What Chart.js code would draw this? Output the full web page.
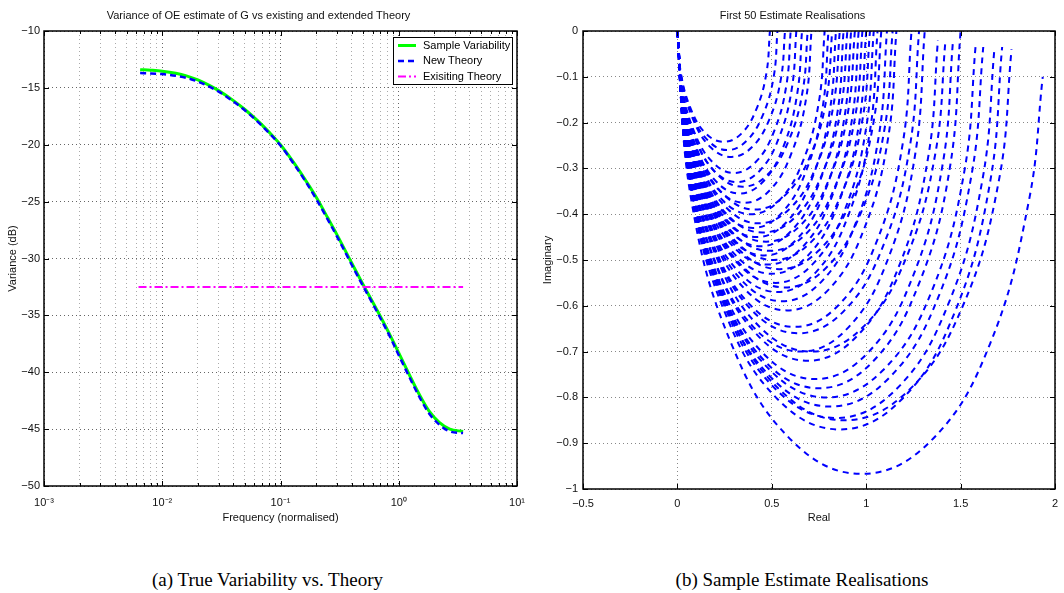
<!DOCTYPE html>
<html>
<head>
<meta charset="utf-8">
<script src="https://cdn.jsdelivr.net/npm/chart.js@4.4.1/dist/chart.umd.min.js"></script>
<style>
  html, body { margin: 0; padding: 0; background: #fff; width: 1064px; height: 593px; overflow: hidden; }
  .wrap { position: absolute; top: 0; height: 540px; }
  #wrapA { left: 0; width: 530px; }
  #wrapB { left: 530px; width: 534px; }
  .caption {
    position: absolute; top: 569px; line-height: 22px;
    font-family: "Liberation Serif", "Times New Roman", serif; font-size: 19px;
    color: #000; text-align: center; white-space: nowrap;
  }
</style>
</head>
<body>
<div class="wrap" id="wrapA"><canvas id="chartVariance" width="530" height="540"></canvas></div>
<div class="wrap" id="wrapB"><canvas id="chartRealisations" width="534" height="540"></canvas></div>
<div class="caption" style="left:0;width:535px">(a) True Variability vs. Theory</div>
<div class="caption" style="left:532px;width:540px">(b) Sample Estimate Realisations</div>

<script>
// ---- left panel: variance vs frequency ----
const freq = [0.0065, 0.008, 0.01, 0.013, 0.016, 0.02, 0.025, 0.03, 0.04, 0.05, 0.065, 0.08, 0.1, 0.13, 0.16,
  0.2, 0.25, 0.3, 0.4, 0.5, 0.6, 0.7, 0.85, 1.0, 1.2, 1.5, 1.8, 2.2, 2.7, 3.5];
const sampleVariability = [-13.4, -13.45, -13.53, -13.71, -13.94, -14.3, -14.78, -15.24, -16.12, -16.9, -17.95, -18.89, -20.0, -21.6, -23.0,
  -24.6, -26.4, -27.9, -30.4, -32.3, -33.8, -35.1, -36.8, -38.3, -40.0, -42.0, -43.4, -44.4, -45.0, -45.2];
const newTheory = [-13.7, -13.73, -13.79, -13.93, -14.12, -14.45, -14.9, -15.33, -16.2, -16.98, -18.03, -18.97, -20.07, -21.7, -23.1,
  -24.75, -26.55, -28.05, -30.55, -32.45, -33.95, -35.25, -36.95, -38.5, -40.2, -42.2, -43.6, -44.6, -45.2, -45.35];
const existingFreq = [0.0063, 3.5];
const existingTheory = [-32.5, -32.5];
const varianceTicks = [-50, -45, -40, -35, -30, -25, -20, -15, -10];

// ---- right panel: 50 estimate realisations (Nyquist curves, re/im pairs) ----
const shallowCurves = [
  [[0,0],[0.019,-0.093],[0.072,-0.171],[0.151,-0.224],[0.245,-0.242],[0.339,-0.224],[0.418,-0.171],[0.471,-0.093],[0.49,0]],
  [[0,0],[0.020,-0.100],[0.078,-0.184],[0.164,-0.240],[0.265,-0.26],[0.366,-0.240],[0.452,-0.184],[0.510,-0.100],[0.53,0]],
  [[0,0],[0.022,-0.105],[0.084,-0.194],[0.176,-0.254],[0.285,-0.275],[0.394,-0.254],[0.486,-0.194],[0.548,-0.105],[0.57,0]],
  [[0,0],[0.023,-0.119],[0.088,-0.219],[0.185,-0.286],[0.30,-0.31],[0.415,-0.286],[0.512,-0.219],[0.577,-0.119],[0.60,0]],
  [[0,0],[0.024,-0.126],[0.092,-0.233],[0.194,-0.305],[0.315,-0.33],[0.436,-0.305],[0.538,-0.233],[0.606,-0.126],[0.63,0]],
  [[0,0],[0.025,-0.136],[0.097,-0.251],[0.204,-0.328],[0.33,-0.355],[0.456,-0.328],[0.563,-0.251],[0.635,-0.136],[0.66,0]],
  [[0,0],[0.026,-0.130],[0.101,-0.240],[0.213,-0.314],[0.345,-0.34],[0.477,-0.314],[0.589,-0.240],[0.664,-0.130],[0.69,0]],
  [[0,0],[0.027,-0.144],[0.104,-0.265],[0.219,-0.347],[0.355,-0.375],[0.491,-0.347],[0.606,-0.265],[0.683,-0.144],[0.71,0]]
];
const middleCurves = [
  [[0,0],[0.030,-0.153],[0.114,-0.283],[0.241,-0.370],[0.39,-0.40],[0.539,-0.370],[0.666,-0.283],[0.750,-0.153],[0.78,0]],
  [[0,0],[0.030,-0.165],[0.117,-0.304],[0.247,-0.397],[0.40,-0.43],[0.553,-0.397],[0.683,-0.304],[0.770,-0.165],[0.80,0]],
  [[0,0],[0.031,-0.149],[0.120,-0.276],[0.253,-0.360],[0.41,-0.39],[0.567,-0.360],[0.700,-0.276],[0.789,-0.149],[0.82,0]],
  [[0,0],[0.032,-0.172],[0.123,-0.318],[0.259,-0.416],[0.42,-0.45],[0.581,-0.416],[0.717,-0.318],[0.808,-0.172],[0.84,0]],
  [[0,0],[0.033,-0.161],[0.126,-0.297],[0.265,-0.388],[0.43,-0.42],[0.595,-0.388],[0.734,-0.297],[0.827,-0.161],[0.86,0]],
  [[0,0],[0.033,-0.180],[0.129,-0.332],[0.271,-0.434],[0.44,-0.47],[0.609,-0.434],[0.751,-0.332],[0.847,-0.180],[0.88,0]],
  [[0,0],[0.034,-0.169],[0.132,-0.311],[0.278,-0.407],[0.45,-0.44],[0.622,-0.407],[0.768,-0.311],[0.866,-0.169],[0.90,0]],
  [[0,0],[0.035,-0.188],[0.135,-0.346],[0.284,-0.453],[0.46,-0.49],[0.636,-0.453],[0.785,-0.346],[0.885,-0.188],[0.92,0]],
  [[0,0],[0.036,-0.176],[0.138,-0.325],[0.290,-0.425],[0.47,-0.46],[0.650,-0.425],[0.802,-0.325],[0.904,-0.176],[0.94,0]],
  [[0,0],[0.036,-0.195],[0.141,-0.361],[0.296,-0.471],[0.48,-0.51],[0.664,-0.471],[0.819,-0.361],[0.924,-0.195],[0.96,0]],
  [[0,0],[0.037,-0.184],[0.144,-0.339],[0.302,-0.444],[0.49,-0.48],[0.678,-0.444],[0.836,-0.339],[0.943,-0.184],[0.98,0]],
  [[0,0],[0.038,-0.203],[0.147,-0.375],[0.309,-0.490],[0.50,-0.53],[0.692,-0.490],[0.854,-0.375],[0.962,-0.203],[1.00,0]],
  [[0,0],[0.039,-0.192],[0.149,-0.354],[0.315,-0.462],[0.51,-0.50],[0.705,-0.462],[0.871,-0.354],[0.981,-0.192],[1.02,0]],
  [[0,0],[0.040,-0.211],[0.152,-0.389],[0.321,-0.508],[0.52,-0.55],[0.719,-0.508],[0.888,-0.389],[1.000,-0.211],[1.04,0]],
  [[0,0],[0.040,-0.218],[0.155,-0.403],[0.327,-0.527],[0.53,-0.57],[0.733,-0.527],[0.905,-0.403],[1.020,-0.218],[1.06,0]],
  [[0,0],[0.041,-0.199],[0.158,-0.368],[0.333,-0.480],[0.54,-0.52],[0.747,-0.480],[0.922,-0.368],[1.039,-0.199],[1.08,0]],
  [[0,0],[0.042,-0.226],[0.163,-0.417],[0.342,-0.545],[0.555,-0.59],[0.768,-0.545],[0.947,-0.417],[1.068,-0.226],[1.11,0]],
  [[0,0],[0.043,-0.214],[0.167,-0.396],[0.352,-0.517],[0.57,-0.56],[0.788,-0.517],[0.973,-0.396],[1.097,-0.214],[1.14,0]],
  [[0,0],[0.044,-0.234],[0.170,-0.431],[0.358,-0.564],[0.58,-0.61],[0.802,-0.564],[0.990,-0.431],[1.116,-0.234],[1.16,0]]
];
const deepCurves = [
  [[0,0],[0.047,-0.247],[0.182,-0.457],[0.383,-0.597],[0.62,-0.646],[0.857,-0.597],[1.058,-0.457],[1.193,-0.247],[1.24,0]],
  [[0,0],[0.049,-0.253],[0.188,-0.467],[0.395,-0.610],[0.64,-0.66],[0.885,-0.610],[1.092,-0.467],[1.231,-0.253],[1.28,0]],
  [[0,0],[0.050,-0.268],[0.192,-0.495],[0.404,-0.647],[0.655,-0.70],[0.906,-0.647],[1.118,-0.495],[1.260,-0.268],[1.31,0]],
  [[0,0],[0.052,-0.276],[0.202,-0.509],[0.426,-0.665],[0.69,-0.72],[0.954,-0.665],[1.178,-0.509],[1.328,-0.276],[1.38,-0.02]],
  [[0,0],[0.054,-0.268],[0.208,-0.495],[0.438,-0.647],[0.71,-0.70],[0.982,-0.647],[1.212,-0.495],[1.366,-0.268],[1.42,-0.02]],
  [[0,0],[0.055,-0.291],[0.214,-0.537],[0.450,-0.702],[0.73,-0.76],[1.010,-0.702],[1.246,-0.537],[1.405,-0.291],[1.46,-0.02]],
  [[0,0],[0.057,-0.299],[0.220,-0.551],[0.463,-0.721],[0.75,-0.78],[1.037,-0.721],[1.280,-0.551],[1.443,-0.299],[1.50,0]],
  [[0,0],[0.060,-0.306],[0.231,-0.566],[0.487,-0.739],[0.79,-0.80],[1.093,-0.739],[1.349,-0.566],[1.520,-0.306],[1.58,-0.03]],
  [[0,0],[0.062,-0.314],[0.237,-0.580],[0.500,-0.758],[0.81,-0.82],[1.120,-0.758],[1.383,-0.580],[1.558,-0.314],[1.62,-0.035]],
  [[0,0],[0.064,-0.324],[0.246,-0.597],[0.518,-0.781],[0.84,-0.845],[1.162,-0.781],[1.434,-0.597],[1.616,-0.324],[1.68,-0.035]],
  [[0,0],[0.065,-0.333],[0.252,-0.615],[0.531,-0.804],[0.86,-0.87],[1.189,-0.804],[1.468,-0.615],[1.655,-0.333],[1.72,-0.035]],
  [[0,0],[0.067,-0.326],[0.259,-0.601],[0.546,-0.785],[0.885,-0.85],[1.224,-0.785],[1.511,-0.601],[1.703,-0.326],[1.77,-0.04]],
  [[0,0],[0.074,-0.370],[0.287,-0.684],[0.605,-0.894],[0.975,-0.967],[1.345,-0.894],[1.655,-0.684],[1.862,-0.370],[1.935,-0.1]]
];

(function () {
  "use strict";

  Chart.defaults.font.family = '"Liberation Sans", Arial, Helvetica, sans-serif';
  Chart.defaults.font.size = 11;
  Chart.defaults.color = "#111";

  const SUP = { "-": "\u207B", "0": "\u2070", "1": "\u00B9", "2": "\u00B2", "3": "\u00B3" };

  function signed(v, digits) {
    const r = Math.round(v * Math.pow(10, digits)) / Math.pow(10, digits);
    return r < 0 ? "\u2212" + Math.abs(r) : String(r);
  }

  function pts(xs, ys) {
    return xs.map((x, i) => ({ x, y: ys[i] }));
  }

  // matlab style box with inward ticks on all four sides
  const frameTicks = {
    id: "frameTicks",
    afterDraw(chart) {
      const { ctx, chartArea: a } = chart;
      ctx.save();
      ctx.strokeStyle = "#000";
      ctx.lineWidth = 1;
      const xs = chart.scales.x, ys = chart.scales.y;
      ctx.beginPath();
      xs.ticks.forEach((t) => {
        const len = xs.type === "logarithmic" && !t.major ? 3 : 5;
        const p = Math.round(xs.getPixelForValue(t.value)) + 0.5;
        ctx.moveTo(p, a.bottom); ctx.lineTo(p, a.bottom - len);
        ctx.moveTo(p, a.top); ctx.lineTo(p, a.top + len);
      });
      ys.ticks.forEach((t) => {
        const p = Math.round(ys.getPixelForValue(t.value)) + 0.5;
        ctx.moveTo(a.left, p); ctx.lineTo(a.left + 5, p);
        ctx.moveTo(a.right, p); ctx.lineTo(a.right - 5, p);
      });
      ctx.stroke();
      ctx.lineWidth = 1.5;
      ctx.strokeRect(a.left, a.top, a.right - a.left, a.bottom - a.top);
      ctx.restore();
    },
  };

  const legendBox = {
    id: "legendBox",
    afterDraw(chart) {
      const { ctx, chartArea } = chart;
      const w = 119, h = 47, rowH = 15.5;
      const x0 = chartArea.right - 5 - w, y0 = chartArea.top + 6;
      ctx.save();
      ctx.fillStyle = "#fff";
      ctx.fillRect(x0, y0, w, h);
      ctx.strokeStyle = "#000";
      ctx.lineWidth = 1;
      ctx.strokeRect(x0 + 0.5, y0 + 0.5, w, h);
      ctx.font = '11px "Liberation Sans", Arial, sans-serif';
      ctx.textBaseline = "middle";
      chart.data.datasets.forEach((ds, i) => {
        const y = y0 + 8.5 + i * rowH;
        ctx.strokeStyle = ds.borderColor;
        ctx.lineWidth = ds.borderWidth;
        ctx.setLineDash(ds.borderDash || []);
        ctx.beginPath();
        ctx.moveTo(x0 + 5, y);
        ctx.lineTo(x0 + 23, y);
        ctx.stroke();
        ctx.setLineDash([]);
        ctx.fillStyle = "#000";
        ctx.fillText(ds.label, x0 + 30, y);
      });
      ctx.restore();
    },
  };

  new Chart(document.getElementById("chartVariance"), {
    type: "scatter",
    data: {
      datasets: [
        { label: "Sample Variability", data: pts(freq, sampleVariability), showLine: true, borderColor: "#00ff00",
          borderWidth: 3, pointRadius: 0, cubicInterpolationMode: "monotone", order: 3 },
        { label: "New Theory", data: pts(freq, newTheory), showLine: true, borderColor: "#0000ff",
          borderWidth: 2.5, borderDash: [6, 4], pointRadius: 0, cubicInterpolationMode: "monotone", order: 2 },
        { label: "Exisiting Theory", data: pts(existingFreq, existingTheory), showLine: true, borderColor: "#ff00ff",
          borderWidth: 2, borderDash: [8, 3, 2, 3], pointRadius: 0, order: 1 },
      ],
    },
    options: {
      responsive: false,
      animation: false,
      layout: { padding: { left: 0, right: 13, top: 0, bottom: 0 } },
      plugins: {
        legend: { display: false },
        tooltip: { enabled: false },
        title: {
          display: true,
          text: "Variance of OE estimate of G vs existing and extended Theory",
          color: "#111",
          font: { size: 11, weight: "normal" },
          padding: { top: 9, bottom: 8.8 },
        },
      },
      scales: {
        x: {
          type: "logarithmic",
          min: 0.001,
          max: 10,
          afterFit(s) { s.height = 54; },
          afterBuildTicks(s) {
            s.ticks = s.ticks.filter((t) => {
              const m = t.value / Math.pow(10, Math.floor(Math.log10(t.value) + 1e-9));
              return Math.abs(m - Math.round(m)) < 1e-6;
            });
          },
          grid: {
            color: (c) => (c.tick && c.tick.major ? "#666" : "#aaa"),
            drawTicks: true,
            tickLength: 6,
            tickColor: "rgba(0,0,0,0)",
          },
          border: { display: false, dash: [1, 3] },
          ticks: {
            autoSkip: false,
            maxRotation: 0,
            padding: 4,
            color: "#111",
            callback(v) {
              const e = Math.log10(v);
              if (Math.abs(e - Math.round(e)) > 1e-9) return "";
              return "10" + String(Math.round(e)).split("").map((ch) => SUP[ch]).join("");
            },
          },
          title: { display: true, text: "Frequency (normalised)", color: "#111", font: { size: 11 }, padding: { top: 0, bottom: 15.4 } },
        },
        y: {
          min: -50,
          max: -10,
          afterFit(s) { s.width = 44; },
          afterBuildTicks(s) { s.ticks = varianceTicks.map((v) => ({ value: v })); },
          grid: { color: "#666", drawTicks: false },
          border: { display: false, dash: [1, 3] },
          ticks: { padding: 4, color: "#111", callback: (v) => signed(v, 0) },
          title: { display: true, text: "Variance (dB)", color: "#111", font: { size: 11 }, padding: { top: 6.4, bottom: 0 } },
        },
      },
    },
    plugins: [frameTicks, legendBox],
  });

  const realisations = shallowCurves.concat(middleCurves, deepCurves);

  new Chart(document.getElementById("chartRealisations"), {
    type: "scatter",
    data: {
      datasets: realisations.map((curve) => ({
        data: curve.map(([re, im]) => ({ x: re, y: im })),
        showLine: true,
        borderColor: "#0000ff",
        borderWidth: 2,
        borderDash: [6, 5],
        pointRadius: 0,
        tension: 0.4,
      })),
    },
    options: {
      responsive: false,
      animation: false,
      layout: { padding: { left: 0, right: 9, top: 0, bottom: 0 } },
      plugins: {
        legend: { display: false },
        tooltip: { enabled: false },
        title: {
          display: true,
          text: "First 50 Estimate Realisations",
          color: "#111",
          font: { size: 11, weight: "normal" },
          padding: { top: 9, bottom: 8.8 },
        },
      },
      scales: {
        x: {
          type: "linear",
          min: -0.5,
          max: 2,
          afterFit(s) { s.height = 51; },
          grid: { color: "#888", drawTicks: true, tickLength: 5, tickColor: "rgba(0,0,0,0)" },
          border: { display: false, dash: [1, 3] },
          ticks: { stepSize: 0.5, padding: 3, maxRotation: 0, color: "#111", callback: (v) => signed(v, 1) },
          title: { display: true, text: "Real", color: "#111", font: { size: 11 }, padding: { top: 0, bottom: 15.4 } },
        },
        y: {
          type: "linear",
          min: -1,
          max: 0,
          afterFit(s) { s.width = 53; },
          grid: { color: "#888", drawTicks: false },
          border: { display: false, dash: [1, 3] },
          ticks: { stepSize: 0.1, padding: 5, color: "#111", callback: (v) => signed(v, 1) },
          title: { display: true, text: "Imaginary", color: "#111", font: { size: 11 }, padding: { top: 11.4, bottom: 0 } },
        },
      },
    },
    plugins: [frameTicks],
  });
})();
</script>
</body>
</html>
